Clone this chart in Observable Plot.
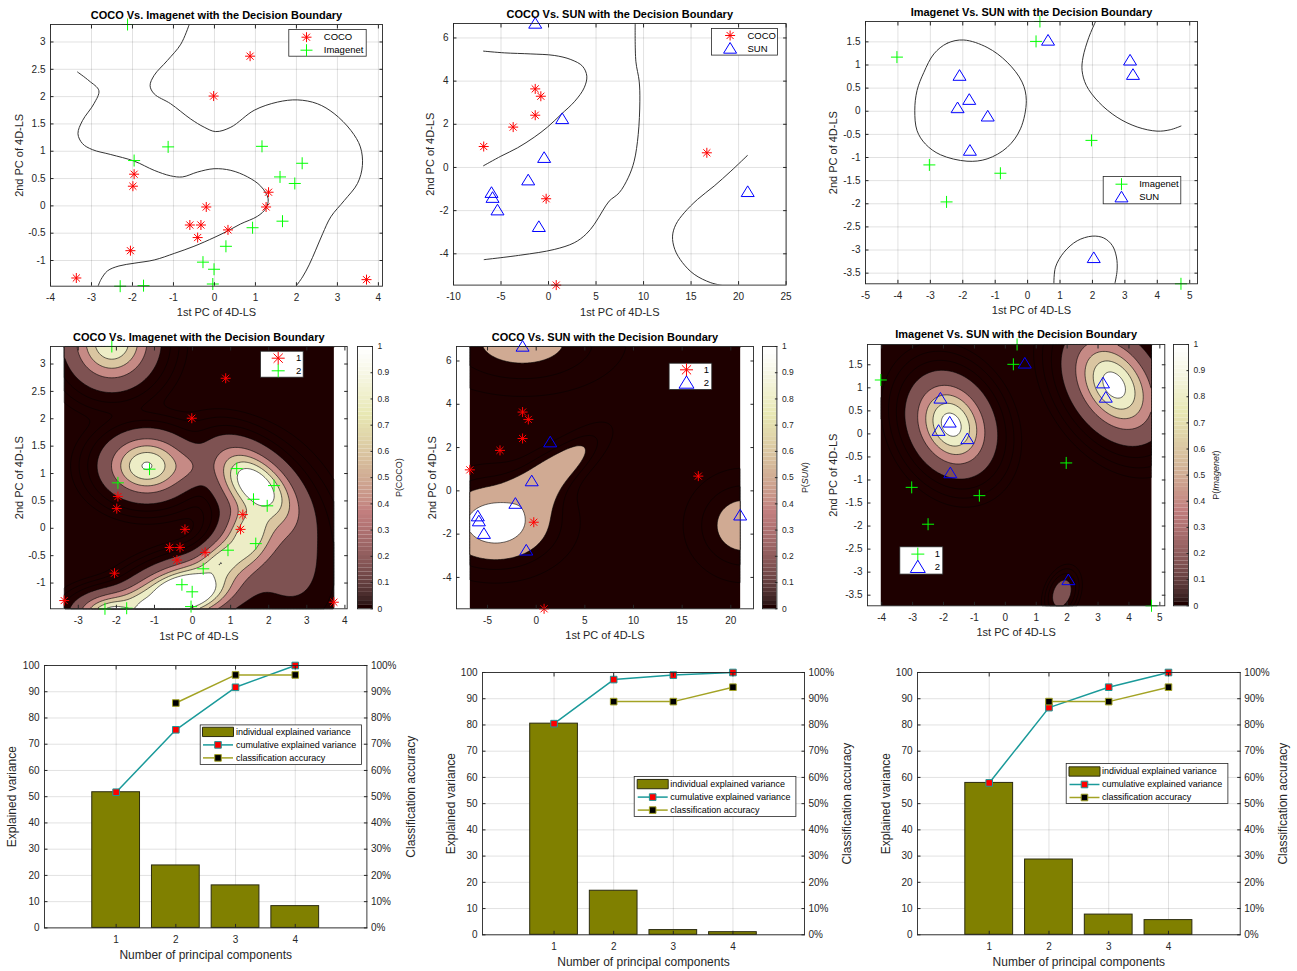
<!DOCTYPE html>
<html><head><meta charset="utf-8">
<script src="https://cdn.jsdelivr.net/npm/d3@7"></script>
<script src="https://cdn.jsdelivr.net/npm/@observablehq/plot@0.6"></script>
<style>
body{margin:0;background:#fff;}
#root{position:relative;width:1297px;height:971px;overflow:hidden;background:#fff;}
</style></head><body><div id="root"></div>
<script>
// ---------------- DATA ----------------
// COCO vs Imagenet (PC1, PC2 of 4D latent space)
const cocoImgCOCOx = [0.87, -0.02, -1.96, -1.99, -0.20, 1.32, 1.26, -0.60, -0.33, -0.41, 0.33, -2.05, -3.37, 3.71];
const cocoImgCOCOy = [2.74, 2.01, 0.58, 0.36, -0.02, 0.25, -0.02, -0.35, -0.35, -0.58, -0.44, -0.82, -1.32, -1.35];
const cocoImgIMGx = [-2.12, -1.13, -1.96, 1.16, 2.14, 1.60, 1.96, 1.66, 0.93, 0.28, -0.28, -0.01, -0.04, -2.30, -1.73];
const cocoImgIMGy = [3.32, 1.08, 0.83, 1.09, 0.78, 0.53, 0.41, -0.28, -0.40, -0.74, -1.03, -1.16, -1.43, -1.47, -1.46];
// COCO vs SUN
const cocoSunCOCOx = [-1.40, -0.81, -1.40, -3.72, -6.82, -0.25, 16.66, 0.81];
const cocoSunCOCOy = [3.64, 3.30, 2.42, 1.87, 0.97, -1.45, 0.68, -5.45];
const cocoSunSUNx = [-1.40, 1.44, -0.46, -2.14, -6.00, -5.89, -5.37, -1.02, 20.96];
const cocoSunSUNy = [6.67, 2.25, 0.45, -0.59, -1.17, -1.40, -1.98, -2.75, -1.13];
// Imagenet vs SUN
const imgSunIMGx = [-4.03, 0.38, 0.26, -3.03, -0.84, -2.50, 1.97, 4.73];
const imgSunIMGy = [1.17, 1.94, 1.51, -1.16, -1.34, -1.96, -0.63, -3.73];
const imgSunSUNx = [0.63, 3.16, 3.25, -2.10, -1.80, -2.16, -1.23, -1.78, 2.04];
const imgSunSUNy = [1.53, 1.10, 0.79, 0.77, 0.25, 0.07, -0.11, -0.85, -3.17];

// decision boundaries, [PC1, PC2]
const boundaryCocoImgA = [[-3.34,2.45],[-3.06,2.29],[-2.82,2.11],[-2.94,1.87],[-3.22,1.56],[-3.33,1.32],[-3.22,1.14],[-2.98,1.03],[-2.53,0.94],[-1.96,0.82],[-1.47,0.65],[-1.07,0.55],[-0.78,0.53],[-0.41,0.62],[-0.01,0.68],[0.40,0.65],[0.81,0.53],[1.13,0.36],[1.31,0.13],[1.25,-0.05],[1.05,-0.19],[0.64,-0.33],[0.32,-0.46],[-0.01,-0.58],[-0.50,-0.74],[-0.98,-0.87],[-1.47,-0.99],[-1.96,-1.05],[-2.33,-1.10],[-2.61,-1.19],[-2.77,-1.35],[-2.84,-1.47]];
const boundaryCocoImgB = [[-0.62,3.31],[-0.82,2.96],[-1.15,2.66],[-1.47,2.39],[-1.57,2.20],[-1.47,2.05],[-1.07,1.87],[-0.58,1.59],[-0.25,1.44],[0.03,1.36],[0.40,1.44],[0.97,1.75],[1.54,1.90],[2.03,1.94],[2.51,1.87],[2.92,1.69],[3.33,1.38],[3.56,1.08],[3.61,0.74],[3.49,0.41],[3.17,0.10],[2.84,-0.20],[2.64,-0.51],[2.47,-0.81],[2.31,-1.08],[2.15,-1.30],[1.99,-1.47]];
const boundaryCocoSunA = [[-6.84,5.39],[-4.66,5.31],[-1.86,5.26],[0.60,5.19],[2.35,5.00],[3.58,4.69],[4.03,4.23],[3.75,3.69],[2.77,3.07],[1.30,2.45],[-0.11,1.87],[-1.51,1.40],[-3.26,0.91],[-5.02,0.52],[-6.84,0.08]];
const boundaryCocoSunB = [[9.12,6.65],[9.19,4.92],[9.54,4.00],[9.61,3.07],[9.44,1.53],[9.01,0.29],[8.38,-0.48],[7.44,-1.17],[6.38,-1.56],[5.68,-2.02],[4.81,-2.64],[3.93,-3.10],[2.70,-3.49],[0.60,-3.80],[-2.91,-4.06],[-6.77,-4.27]];
const boundaryCocoSunC = [[20.94,0.56],[19.19,-0.17],[17.43,-0.86],[15.68,-1.48],[14.28,-2.10],[13.40,-2.64],[13.05,-3.18],[13.29,-3.80],[14.10,-4.41],[15.33,-4.95],[17.08,-5.34],[18.55,-5.49]];
const boundaryImgSunA = [[-1.97,1.54],[-2.48,1.47],[-2.89,1.24],[-3.20,0.84],[-3.41,0.45],[-3.48,0.02],[-3.41,-0.42],[-3.15,-0.71],[-2.69,-0.94],[-1.87,-1.08],[-1.25,-1.03],[-0.63,-0.78],[-0.22,-0.38],[-0.04,0.23],[-0.17,0.63],[-0.63,1.06],[-1.25,1.38]];
const boundaryImgSunB = [[2.09,1.93],[1.89,1.60],[1.71,1.17],[1.68,0.88],[1.81,0.56],[2.19,0.20],[2.76,-0.13],[3.38,-0.34],[3.99,-0.43],[4.40,-0.40],[4.73,-0.32]];
const boundaryImgSunC = [[0.81,-3.73],[0.86,-3.37],[1.12,-3.05],[1.53,-2.80],[1.99,-2.70],[2.35,-2.74],[2.61,-2.90],[2.74,-3.15],[2.76,-3.44],[2.69,-3.73]];

// probability surfaces: bumps [cx, cy, peak, sx, sy, rho]
const probCocoImg = [[-2.12,3.40,0.9,0.62,0.44,0],[-1.20,1.14,0.92,0.62,0.33,0],[-0.12,1.12,0.17,0.38,0.2,0],[1.65,0.77,1.2,0.62,0.42,-0.5],[1.50,-0.10,0.85,0.42,0.42,0.3],[0.75,-0.62,0.85,0.52,0.32,0.6],[-0.22,-1.17,1.6,0.75,0.30,0.3],[-1.15,-1.40,0.85,0.50,0.2,0.2],[-2.05,-1.58,1.10,0.55,0.22,0],[2.30,-0.30,0.2,0.8,0.8,-0.3]];
const probCocoSun = [[-4.2,-1.5,1.15,4.1,1.3,0],[2.5,1.1,0.75,2.8,1.07,0.78],[0.2,0.0,0.6,1.8,1.0,0.4],[-2.0,0.0,0.3,1.5,0.6,0.3],[-1.4,6.9,0.65,5.8,1.38,0],[21.3,-1.6,0.7,3.3,1.41,0]];
const probImgSun = [[-1.75,0.2,1.0,0.70,0.55,-0.2],[3.52,1.06,1.0,0.80,0.62,-0.35],[1.83,-3.46,0.22,0.24,0.23,0.3]];

// PCA bars
const components = [1, 2, 3, 4];
const cocoImgIndividual = [51.7, 23.8, 16.2, 8.3];
const cocoImgCumulative = [51.7, 75.5, 91.7, 100];
const cocoImgAccuracy = [null, 85.7, 96.4, 96.4];
const cocoSunIndividual = [80.5, 16.8, 1.8, 1.0];
const cocoSunCumulative = [80.5, 97.3, 99.0, 100];
const cocoSunAccuracy = [null, 88.9, 88.9, 94.4];
const imgSunIndividual = [57.9, 28.7, 7.7, 5.6];
const imgSunCumulative = [57.9, 86.6, 94.4, 100];
const imgSunAccuracy = [null, 88.9, 88.9, 94.4];

// tick labels
const ticksX1 = [-4,-3,-2,-1,0,1,2,3,4];
const ticksY1 = [-1,-0.5,0,0.5,1,1.5,2,2.5,3];
const ticksX2 = [-10,-5,0,5,10,15,20,25];
const ticksY2 = [-4,-2,0,2,4,6];
const ticksX3 = [-5,-4,-3,-2,-1,0,1,2,3,4,5];
const ticksY3 = [-3.5,-3,-2.5,-2,-1.5,-1,-0.5,0,0.5,1,1.5];
const ticksX4 = [-3,-2,-1,0,1,2,3,4];
const ticksX5 = [-5,0,5,10,15,20];
const ticksX6 = [-4,-3,-2,-1,0,1,2,3,4,5];
const ticksBarX = [1,2,3,4];
const ticksBarY = [0,10,20,30,40,50,60,70,80,90,100];
const ticksColorbar = [0,0.1,0.2,0.3,0.4,0.5,0.6,0.7,0.8,0.9,1];

// ---------------- STYLE ----------------
const FONT = '"Liberation Sans", Arial, Helvetica, sans-serif';
const INK = "#262626";
const RED = "#ff0000", GREEN = "#00ff00", BLUE = "#0000ff";
const OLIVE = "#808000", TEAL = "#1a9a9a", ACC = "#a3a324";
const DARK = "#1e0000";
const BANDS = [[0.1,"#7e5252"],[0.3,"#c68a85"],[0.5,"#dac6a1"],[0.7,"#ededc6"],[0.9,"#ffffff"]];
const BANDS_SUN = [[0.5,"#d0aa93"],[0.9,"#ffffff"]];
const BAR_W = 0.8;

const rad = size => Math.sqrt(size / Math.PI);
const asterisk8 = {draw(c, s){const r=rad(s), d=r*Math.SQRT1_2; c.moveTo(-r,0);c.lineTo(r,0);c.moveTo(0,-r);c.lineTo(0,r);c.moveTo(-d,-d);c.lineTo(d,d);c.moveTo(-d,d);c.lineTo(d,-d);}};
const plusSym = {draw(c, s){const r=rad(s); c.moveTo(-r,0);c.lineTo(r,0);c.moveTo(0,-r);c.lineTo(0,r);}};
const triSym = {draw(c, s){const r=rad(s); c.moveTo(0,-r*0.92);c.lineTo(r,r*0.72);c.lineTo(-r,r*0.72);c.closePath();}};
const squareSym = {draw(c, s){const r=rad(s); c.rect(-r,-r,2*r,2*r);}};
const hlineSym = {draw(c, s){const r=rad(s); c.moveTo(-r,0);c.lineTo(r,0);}};
const swatchSym = {draw(c, s){const r=rad(s); c.rect(-r,-r*0.3,2*r,r*0.6);}};

const STY = {
  COCO: {symbol: asterisk8, stroke: RED, r: 5},
  Imagenet: {symbol: plusSym, stroke: GREEN, r: 6},
  SUN: {symbol: triSym, stroke: BLUE, r: 6.5}
};

const root = document.getElementById("root");
const fmt = d => String(d);

function place(frame, marks, options = {}) {
  const [L, T, R, B] = frame;
  const m = {l: 50, r: 50, t: 26, b: 44};
  const svg = Plot.plot({
    width: R - L + m.l + m.r, height: B - T + m.t + m.b,
    marginLeft: m.l, marginRight: m.r, marginTop: m.t, marginBottom: m.b,
    ...options, marks
  });
  Object.assign(svg.style, {position: "absolute", left: (L - m.l) + "px", top: (T - m.t) + "px",
    background: "transparent", overflow: "visible", maxWidth: "none"});
  svg.setAttribute("font-family", FONT);
  root.appendChild(svg);
  return svg;
}

function boxAxes(xt, yt, rightTicks = true) {
  return [
    Plot.frame({stroke: INK, strokeWidth: 0.9}),
    Plot.axisX(xt, {anchor: "bottom", tickSize: -3.5, tickPadding: 11.5, tickFormat: fmt, fontSize: 10, fill: INK, stroke: INK, label: null}),
    Plot.axisX(xt, {anchor: "top", tickSize: -3.5, fill: "none", stroke: INK, label: null}),
    Plot.axisY(yt, {anchor: "left", tickSize: -3.5, tickPadding: 8.5, tickFormat: fmt, fontSize: 10, fill: INK, stroke: INK, label: null}),
    rightTicks ? Plot.axisY(yt, {anchor: "right", tickSize: -3.5, fill: "none", stroke: INK, label: null}) : null
  ];
}
function gridMarks(xt, yt) {
  return [Plot.gridX(xt, {stroke: "#000", strokeOpacity: 0.12}), Plot.gridY(yt, {stroke: "#000", strokeOpacity: 0.12})];
}
function labelMarks(title, xl, yl, yDx, xDy = 26.7, tDy = -9.5) {
  return [
    Plot.text([title], {frameAnchor: "top", dy: tDy, fontSize: 11, fontWeight: "bold", fill: "#000", textAnchor: "middle", lineAnchor: "middle"}),
    Plot.text([xl], {frameAnchor: "bottom", dy: xDy, fontSize: 11, fill: INK, textAnchor: "middle", lineAnchor: "middle"}),
    Plot.text([yl], {frameAnchor: "left", dx: yDx, rotate: -90, fontSize: 11, fill: INK, textAnchor: "middle", lineAnchor: "middle"})
  ];
}
function legendMarks(frame, box, rows, symX, textX, items, fontSize = 9.5) {
  const [L, T, R, B] = frame;
  const out = [Plot.frame({insetLeft: box[0]-L, insetTop: box[1]-T, insetRight: R-box[2], insetBottom: B-box[3], fill: "white", stroke: INK, strokeWidth: 0.8})];
  items.forEach((it, i) => {
    for (const st of it.symbols) out.push(Plot.dot([0], {frameAnchor: "top-left", dx: symX-L, dy: rows[i]-T, fill: "none", strokeWidth: 1, ...st}));
    out.push(Plot.text([it.label], {frameAnchor: "top-left", dx: textX-L, dy: rows[i]-T, textAnchor: "start", lineAnchor: "middle", fontSize, fill: "#000"}));
  });
  return out;
}
function pts(xs, ys) { return xs.map((x, i) => ({x, y: ys[i]})); }
function seriesMarks(list) {
  return list.map(([xs, ys, name]) => Plot.dot(pts(xs, ys), {x: "x", y: "y", fill: "none", strokeWidth: 1, ...STY[name]}));
}
function curveMarks(curves) {
  return curves.map(([c, closed]) => Plot.line(c, {x: d => d[0], y: d => d[1], curve: closed ? "catmull-rom-closed" : "catmull-rom", stroke: "#333", strokeWidth: 1, clip: true}));
}
function field(bumps) {
  return (x, y) => {
    let q = 1;
    for (const [cx, cy, a, sx, sy, rho] of bumps) {
      const u = (x - cx) / sx, v = (y - cy) / sy;
      const d = (u*u - 2*rho*u*v + v*v) / (1 - rho*rho);
      q *= 1 - Math.min(1, a * Math.exp(-d / 2));
    }
    return 1 - q;
  };
}
function contourMarks(bumps, xs, yDomain, bands, lines) {
  const value = field(bumps);
  const [x1, x2] = d3.extent(xs), [y1, y2] = yDomain;
  const o = {value, x1, x2, y1, y2, pixelSize: 1.5};
  const out = [Plot.contour({...o, thresholds: [0], fill: DARK, stroke: "none"})];
  out.push(Plot.contour({...o, thresholds: lines, fill: "none", stroke: "#000", strokeWidth: 0.6, strokeOpacity: 0.8}));
  for (const [t, c] of bands) out.push(Plot.contour({...o, thresholds: [t], fill: c, stroke: "#000", strokeWidth: 0.6}));
  return out;
}
function pinkColor(i, n = 64) {
  const n1 = Math.floor(3 / 8 * n), n2 = n1, g = i / (n - 1);
  const hr = i < n1 ? (i + 1) / n1 : 1;
  const hg = i < n1 ? 0 : i < n1 + n2 ? (i - n1 + 1) / n2 : 1;
  const hb = i < n1 + n2 ? 0 : (i - n1 - n2 + 1) / (n - n1 - n2);
  const f = v => Math.round(255 * Math.sqrt((2 * g + v) / 3));
  return `rgb(${f(hr)},${f(hg)},${f(hb)})`;
}
function colorbar(frame, label, dx, italic) {
  const cells = d3.range(64).map(i => ({y1: i / 64, y2: (i + 1) / 64, c: pinkColor(i)}));
  const svg = place(frame, [
    Plot.rect(cells, {y1: "y1", y2: "y2", fill: "c"}),
    Plot.frame({stroke: INK, strokeWidth: 0.9}),
    Plot.axisY(ticksColorbar, {anchor: "right", tickSize: -2.5, tickPadding: 7.5, tickFormat: fmt, fontSize: 8.5, fill: INK, stroke: INK, label: null}),
    Plot.text([label], {frameAnchor: "right", dx, rotate: -90, fontSize: 9, fill: INK, textAnchor: "middle", lineAnchor: "middle"})
  ], {x: {domain: [0, 1], axis: null}, y: {domain: [0, 1]}, color: {type: "identity"}});
  if (italic) {
    svg.querySelectorAll("text").forEach(t => {
      if (t.textContent === label) {
        t.textContent = "";
        ["P(", italic, ")"].forEach((s, k) => {
          const sp = document.createElementNS("http://www.w3.org/2000/svg", "tspan");
          sp.textContent = s; if (k === 1) sp.setAttribute("font-style", "italic");
          t.appendChild(sp);
        });
      }
    });
  }
}

// ---------------- FRAMES (page pixels) ----------------
const F1 = [50, 24.3, 382, 286], F2 = [452.7, 22.7, 785.3, 284.3], F3 = [865, 21, 1197, 283.3];
const F4 = [50, 346, 346.7, 608.3], F5 = [455.7, 346, 752.7, 608.3], F6 = [866.7, 343.7, 1164, 605];
const F7 = [44.3, 665.3, 366.7, 927.7], F8 = [482.3, 671.7, 804.3, 934], F9 = [917.3, 671.7, 1240, 934];
const Y1 = [-1.47, 3.32], Y2 = [-5.45, 6.67], Y3 = [-3.73, 1.94];

// ---------------- TOP ROW ----------------
place(F1, [
  ...gridMarks(ticksX1, ticksY1),
  ...curveMarks([[boundaryCocoImgA], [boundaryCocoImgB]]),
  ...seriesMarks([[cocoImgCOCOx, cocoImgCOCOy, "COCO"], [cocoImgIMGx, cocoImgIMGy, "Imagenet"]]),
  ...boxAxes(ticksX1, ticksY1),
  ...labelMarks("COCO Vs. Imagenet with the Decision Boundary", "1st PC of 4D-LS", "2nd PC of 4D-LS", -31),
  ...legendMarks(F1, [288.3, 29.3, 365.7, 56], [37, 50], 306, 323.3, [{label: "COCO", symbols: [STY.COCO]}, {label: "Imagenet", symbols: [STY.Imagenet]}])
], {x: {domain: [-4, 4.1]}, y: {domain: Y1}});

place(F2, [
  ...gridMarks(ticksX2, ticksY2),
  ...curveMarks([[boundaryCocoSunA], [boundaryCocoSunB], [boundaryCocoSunC]]),
  ...seriesMarks([[cocoSunCOCOx, cocoSunCOCOy, "COCO"], [cocoSunSUNx, cocoSunSUNy, "SUN"]]),
  ...boxAxes(ticksX2, ticksY2),
  ...labelMarks("COCO Vs. SUN with the Decision Boundary", "1st PC of 4D-LS", "2nd PC of 4D-LS", -22.7, 27.4),
  ...legendMarks(F2, [710.7, 27.7, 776.7, 54.3], [34.7, 47.7], 729.3, 746.7, [{label: "COCO", symbols: [STY.COCO]}, {label: "SUN", symbols: [STY.SUN]}])
], {x: {domain: [-10, 25]}, y: {domain: Y2}});

place(F3, [
  ...gridMarks(ticksX3, ticksY3),
  ...curveMarks([[boundaryImgSunA, true], [boundaryImgSunB], [boundaryImgSunC]]),
  ...seriesMarks([[imgSunIMGx, imgSunIMGy, "Imagenet"], [imgSunSUNx, imgSunSUNy, "SUN"]]),
  ...boxAxes(ticksX3, ticksY3),
  ...labelMarks("Imagenet Vs. SUN with the Decision Boundary", "1st PC of 4D-LS", "2nd PC of 4D-LS", -32),
  ...legendMarks(F3, [1102.7, 176, 1180.3, 203.3], [183.7, 196.7], 1121, 1138.7, [{label: "Imagenet", symbols: [STY.Imagenet]}, {label: "SUN", symbols: [STY.SUN]}])
], {x: {domain: [-5, 5.24]}, y: {domain: Y3}});

// ---------------- MIDDLE ROW ----------------
place(F4, [
  ...contourMarks(probCocoImg, [...cocoImgCOCOx, ...cocoImgIMGx], Y1, BANDS, [0.005, 0.015, 0.04]),
  ...seriesMarks([[cocoImgCOCOx, cocoImgCOCOy, "COCO"], [cocoImgIMGx, cocoImgIMGy, "Imagenet"]]),
  ...boxAxes(ticksX4, ticksY1),
  ...labelMarks("COCO Vs. Imagenet with the Decision Boundary", "1st PC of 4D-LS", "2nd PC of 4D-LS", -31, 27.4, -9),
  ...legendMarks(F4, [260, 350.7, 302.7, 376.7], [357.7, 370.3], 277.7, 295.5, [{label: "1", symbols: [{...STY.COCO, r: 6.5}]}, {label: "2", symbols: [{...STY.Imagenet, r: 6.5}]}])
], {x: {domain: [-3.73, 4.06]}, y: {domain: Y1}});
colorbar([357, 346, 372, 608.3], "P(COCO)", 27);

place(F5, [
  ...contourMarks(probCocoSun, [...cocoSunCOCOx, ...cocoSunSUNx], Y2, BANDS_SUN, [0.12, 0.3]),
  ...seriesMarks([[cocoSunCOCOx, cocoSunCOCOy, "COCO"], [cocoSunSUNx, cocoSunSUNy, "SUN"]]),
  ...boxAxes(ticksX5, ticksY2),
  ...labelMarks("COCO Vs. SUN with the Decision Boundary", "1st PC of 4D-LS", "2nd PC of 4D-LS", -24, 26.7, -9),
  ...legendMarks(F5, [668.3, 362.7, 711, 389], [369.3, 382.3], 685.7, 703, [{label: "1", symbols: [{...STY.COCO, r: 6.5}]}, {label: "2", symbols: [{...STY.SUN, r: 7.5}]}])
], {x: {domain: [-8.19, 22.33]}, y: {domain: Y2}});
colorbar([762.3, 346, 776.7, 608.3], "P(SUN)", 28.3, "SUN");

place(F6, [
  ...contourMarks(probImgSun, [...imgSunIMGx, ...imgSunSUNx], Y3, BANDS, [0.005, 0.015, 0.04]),
  ...seriesMarks([[imgSunIMGx, imgSunIMGy, "Imagenet"], [imgSunSUNx, imgSunSUNy, "SUN"]]),
  ...boxAxes(ticksX6, ticksY3),
  ...labelMarks("Imagenet Vs. SUN with the Decision Boundary", "1st PC of 4D-LS", "2nd PC of 4D-LS", -33.7, 26.7, -9.7),
  ...legendMarks(F6, [899, 546, 942, 573.3], [553.3, 566.3], 917, 934, [{label: "1", symbols: [{...STY.Imagenet, r: 6.5}]}, {label: "2", symbols: [{...STY.SUN, r: 7.5}]}])
], {x: {domain: [-4.46, 5.16]}, y: {domain: Y3}});
colorbar([1173.3, 343.7, 1188.3, 605], "P(Imagenet)", 27.4, "Imagenet");

// ---------------- BOTTOM ROW ----------------
function pcaPanel(frame, indiv, cum, acc, box, rows, symX, textX, yDx, rDx, xDy) {
  const bars = components.map((n, i) => ({n, v: indiv[i]}));
  const cumD = components.map((n, i) => ({n, v: cum[i]}));
  const accD = components.map((n, i) => ({n, v: acc[i]})).filter(d => d.v != null);
  place(frame, [
    ...gridMarks(ticksBarX, ticksBarY),
    Plot.rect(bars, {x1: d => d.n - BAR_W / 2, x2: d => d.n + BAR_W / 2, y1: 0, y2: "v", fill: OLIVE, stroke: "#2b2b10", strokeWidth: 1}),
    Plot.line(cumD, {x: "n", y: "v", stroke: TEAL, strokeWidth: 1.5}),
    Plot.line(accD, {x: "n", y: "v", stroke: ACC, strokeWidth: 1.5}),
    Plot.dot(cumD, {x: "n", y: "v", symbol: squareSym, r: 3.3, fill: RED, stroke: TEAL, strokeWidth: 1}),
    Plot.dot(accD, {x: "n", y: "v", symbol: squareSym, r: 3.3, fill: "#000", stroke: ACC, strokeWidth: 1}),
    ...boxAxes(ticksBarX, ticksBarY, false),
    Plot.axisY(ticksBarY, {anchor: "right", tickSize: -3.5, tickPadding: 7.5, tickFormat: d => d + "%", fontSize: 10, fill: INK, stroke: INK, label: null}),
    Plot.text(["Number of principal components"], {frameAnchor: "bottom", dy: xDy, fontSize: 12, fill: INK, textAnchor: "middle", lineAnchor: "middle"}),
    Plot.text(["Explained variance"], {frameAnchor: "left", dx: yDx, rotate: -90, fontSize: 12, fill: INK, textAnchor: "middle", lineAnchor: "middle"}),
    Plot.text(["Classification accuracy"], {frameAnchor: "right", dx: rDx, rotate: -90, fontSize: 12, fill: INK, textAnchor: "middle", lineAnchor: "middle"}),
    ...legendMarks(frame, box, rows, symX, textX, [
      {label: "individual explained variance", symbols: [{symbol: swatchSym, r: 15.5, fill: OLIVE, stroke: "#2b2b10"}]},
      {label: "cumulative explained variance", symbols: [{symbol: hlineSym, r: 15, stroke: TEAL, strokeWidth: 1.5}, {symbol: squareSym, r: 3.3, fill: RED, stroke: TEAL}]},
      {label: "classification accuracy", symbols: [{symbol: hlineSym, r: 15, stroke: ACC, strokeWidth: 1.5}, {symbol: squareSym, r: 3.3, fill: "#000", stroke: ACC}]}
    ], 9)
  ], {x: {domain: [-0.2, 5.2]}, y: {domain: [0, 100]}});
}
pcaPanel(F7, cocoImgIndividual, cocoImgCumulative, cocoImgAccuracy, [200, 724.7, 361.3, 764.3], [731.7, 744.7, 757.7], 217.8, 235.7, -32, 44, 27.3);
pcaPanel(F8, cocoSunIndividual, cocoSunCumulative, cocoSunAccuracy, [634, 775.7, 795.7, 815.7], [783.3, 796.3, 809.3], 652.5, 670, -31.6, 42.4, 27.7);
pcaPanel(F9, imgSunIndividual, imgSunCumulative, imgSunAccuracy, [1066, 762.7, 1227.7, 802.7], [770.7, 783.7, 796.7], 1084.3, 1101.7, -31.3, 43.3, 27.7);
</script></body></html>
